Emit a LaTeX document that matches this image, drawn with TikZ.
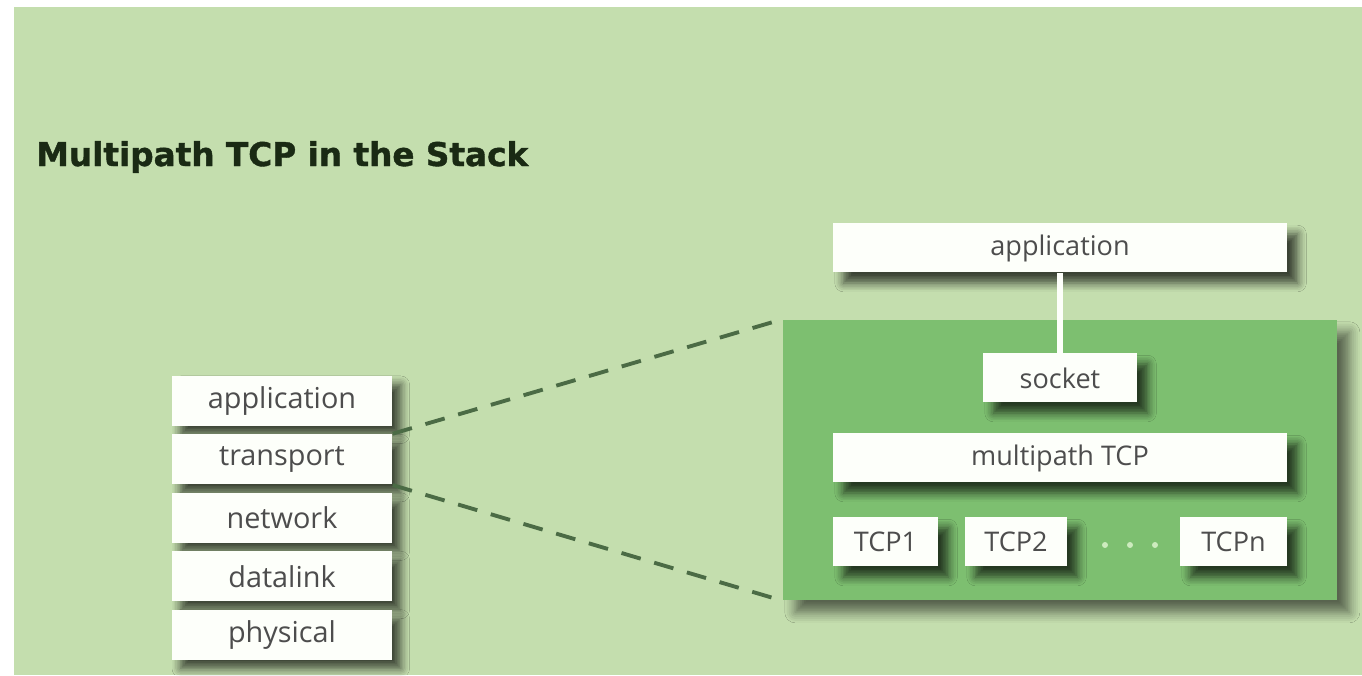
\documentclass[tikz,border=0pt]{standalone}
\usepackage{fontspec}
\setmainfont{Open Sans}
\newfontfamily\titlefont[BoldFeatures={FakeBold=1.2}]{DejaVu Sans}
\usetikzlibrary{positioning, shadows.blur}

\definecolor{bggreen}{HTML}{C4DEAE}
\definecolor{panelgreen}{HTML}{7DBF70}
\definecolor{boxwhite}{HTML}{FDFFFA}
\definecolor{textgray}{HTML}{4D4D4D}
\definecolor{dashgreen}{HTML}{4B6B45}
\definecolor{titlegreen}{HTML}{1A2A14}
\definecolor{dotgreen}{HTML}{CDEBBE}

\begin{document}
\begin{tikzpicture}[
    node distance=0.07cm,
    layer/.style={rectangle, fill=boxwhite, text=textgray, inner sep=0pt,
        minimum width=2.2cm, minimum height=0.5cm, font=\fontsize{8.2}{10}\selectfont,
        blur shadow={shadow xshift=2.5pt, shadow yshift=-2.5pt, shadow blur radius=2.5pt,
            shadow opacity=70, shadow blur steps=6}},
    rbox/.style={rectangle, fill=boxwhite, text=textgray, inner sep=0pt,
        minimum height=0.49cm, font=\fontsize{7.7}{10}\selectfont,
        blur shadow={shadow xshift=3pt, shadow yshift=-3pt, shadow blur radius=2.5pt,
            shadow opacity=70, shadow blur steps=6}},
    zoomline/.style={dashgreen, line width=1.1pt, dash pattern=on 5.7pt off 4pt}
]
\useasboundingbox (0,0) rectangle (13.62,6.75);
\fill[bggreen] (0.14,0) rectangle (13.62,6.68);

% Title
\node[font=\titlefont\bfseries\fontsize{9.3}{11}\selectfont, text=titlegreen, anchor=west] (title) at (0.24,5.18) {Multipath TCP in the Stack};

% ============ PROTOCOL STACK ============
\node[layer] (lapp) at (2.82,2.74) {application};
\node[layer, below=of lapp] (ltrans) {transport};
\node[layer, below=of ltrans] (lnet) {network};
\node[layer, below=of lnet] (llink) {datalink};
\node[layer, below=of llink] (lphys) {physical};

% ============ MULTIPATH TCP DETAIL ============
\node[rectangle, fill=panelgreen, minimum width=5.54cm, minimum height=2.8cm,
    blur shadow={shadow xshift=3.5pt, shadow yshift=-3.5pt, shadow blur radius=3pt,
        shadow opacity=55, shadow blur steps=6}] (panel) at (10.60,2.15) {};

\node[rbox, minimum width=4.54cm] (rapp) at (10.60,4.27) {application};
\node[rbox, minimum width=1.54cm] (socket) at (10.60,2.97) {socket};
\node[rbox, minimum width=4.54cm] (mptcp) at (10.60,2.17) {multipath TCP};
\node[rbox, minimum width=1.05cm] (tcpa) at (8.855,1.33) {TCP1};
\node[rbox, minimum width=1.02cm] (tcpb) at (10.16,1.33) {TCP2};
\node[rbox, minimum width=1.07cm] (tcpn) at (12.335,1.33) {TCPn};

% dots between TCP2 and TCPn
\foreach \x [count=\i] in {11.05,11.30,11.55}
    \fill[dotgreen] (\x,1.30) circle (0.03) coordinate (dot\i);

% socket hangs from the application
\draw[boxwhite, line width=1.5pt] (rapp.south) -- (socket.north);

% ============ ZOOM LINES ============
\draw[zoomline] (ltrans.north east) -- (panel.north west);
\draw[zoomline] (ltrans.south east) -- (panel.south west);

\end{tikzpicture}
\end{document}
